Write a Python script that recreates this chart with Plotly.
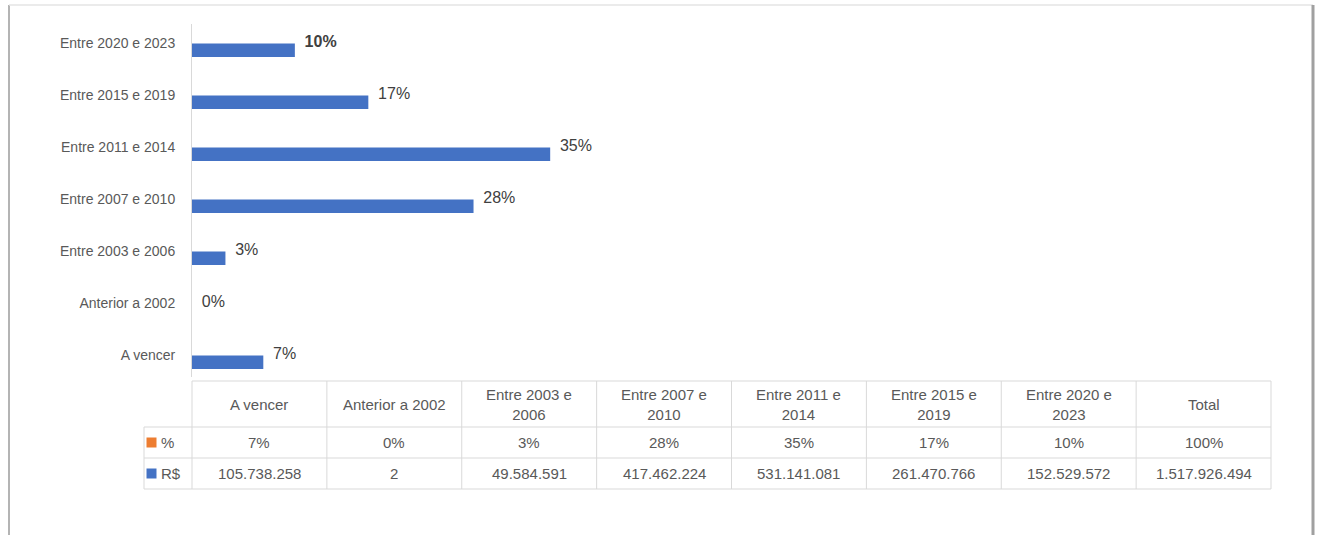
import plotly.graph_objects as go

# ---------------- data ----------------
categories = ["A vencer", "Anterior a 2002", "Entre 2003 e 2006", "Entre 2007 e 2010",
              "Entre 2011 e 2014", "Entre 2015 e 2019", "Entre 2020 e 2023"]
pct = [7, 0, 3, 28, 35, 17, 10]
valores = [105738258, 2, 49584591, 417462224, 531141081, 261470766, 152529572]
total_label = "Total"
total_pct = 100
series_labels = ["%", "R$"]
series_colors = ["#ED7D31", "#4472C4"]

# ---------------- helpers ----------------
W, H = 1320, 535
FONT = "Liberation Sans, Arial, sans-serif"
GRID = "#d9d9d9"
TXT = "#595959"


def fmt_br(v):
    return f"{v:,}".replace(",", ".")


def header_label(c):
    return c.replace(" e ", " e<br>") if c.startswith("Entre") else c


fig = go.Figure()

# bars (R$ series)
fig.add_trace(go.Bar(
    x=valores, y=categories, orientation="h",
    marker=dict(color=series_colors[1], line=dict(width=0)),
    width=0.26, offset=-0.27, hoverinfo="skip", showlegend=False,
))

# percentage labels
label_text = [("<b>%d%%</b>" % p) if c == "Entre 2020 e 2023" else ("%d%%" % p)
              for c, p in zip(categories, pct)]
fig.add_trace(go.Scatter(
    x=valores, y=categories, mode="markers+text", text=label_text,
    textposition="middle right", cliponaxis=False,
    marker=dict(size=14, opacity=0),
    textfont=dict(family=FONT, size=16, color="#404040"),
    hoverinfo="skip", showlegend=False,
))

# ---------------- data table (x2 / y2 in pixel-like units) ----------------
rowhead_w = 48.0
table_w = 1127.0
ncols = len(categories) + 1
col_w = (table_w - rowhead_w) / ncols
header_h, row_h = 46.0, 31.0
row_tops = [header_h, header_h + row_h]
table_h = header_h + 2 * row_h

# legend keys in row header
fig.add_trace(go.Scatter(
    x=[7.5, 7.5], y=[r + row_h / 2 for r in row_tops], mode="markers",
    marker=dict(symbol="square", size=10, color=series_colors),
    xaxis="x2", yaxis="y2", hoverinfo="skip", showlegend=False, cliponaxis=False,
))

shapes = []
line = dict(color=GRID, width=1)
# horizontal lines
shapes.append(dict(type="line", xref="x2", yref="y2", x0=rowhead_w, x1=table_w, y0=0, y1=0, line=line))
for yv in [header_h, header_h + row_h, table_h]:
    shapes.append(dict(type="line", xref="x2", yref="y2", x0=0, x1=table_w, y0=yv, y1=yv, line=line))
# vertical lines
shapes.append(dict(type="line", xref="x2", yref="y2", x0=0, x1=0, y0=header_h, y1=table_h, line=line))
for k in range(ncols + 1):
    xv = rowhead_w + k * col_w
    shapes.append(dict(type="line", xref="x2", yref="y2", x0=xv, x1=xv, y0=0, y1=table_h, line=line))

# outer frame (chart border with shadow)
shapes.append(dict(type="line", xref="paper", yref="paper", x0=9 / W, x1=9 / W, y0=0, y1=1 - 5 / H,
                   line=dict(color="#b4b4b4", width=2)))
shapes.append(dict(type="line", xref="paper", yref="paper", x0=9 / W, x1=1313 / W, y0=1 - 5 / H, y1=1 - 5 / H,
                   line=dict(color="#e4e4e4", width=1.5)))
shapes.append(dict(type="line", xref="paper", yref="paper", x0=1313 / W, x1=1313 / W, y0=0, y1=1 - 5 / H,
                   line=dict(color="#a0a0a0", width=3)))

annotations = []
headers = [header_label(c) for c in categories] + [total_label]
pct_row = ["%d%%" % p for p in pct] + ["%d%%" % total_pct]
val_row = [fmt_br(v) for v in valores] + [fmt_br(sum(valores))]
for i in range(ncols):
    xc = rowhead_w + (i + 0.5) * col_w
    for txt, yc in [(headers[i], header_h / 2), (pct_row[i], row_tops[0] + row_h / 2),
                    (val_row[i], row_tops[1] + row_h / 2)]:
        annotations.append(dict(x=xc, y=yc, xref="x2", yref="y2", text=txt, showarrow=False,
                                xanchor="center", yanchor="middle",
                                font=dict(family=FONT, size=15, color=TXT)))
for lab, top in zip(series_labels, row_tops):
    annotations.append(dict(x=15, y=top + row_h / 2, xref="x2", yref="y2", text=lab, showarrow=False,
                            xanchor="left", yanchor="middle",
                            font=dict(family=FONT, size=15, color=TXT)))

# ---------------- layout ----------------
cat_px = 52.0
plot_top, plot_bottom = 24.0, 381.0
y_top = -0.5 + (plot_bottom - plot_top) / cat_px
pad = 4

fig.update_layout(
    width=W, height=H, autosize=False,
    margin=dict(l=0, r=0, t=0, b=0),
    paper_bgcolor="white", plot_bgcolor="white",
    font=dict(family=FONT, color=TXT),
    showlegend=False,
    xaxis=dict(domain=[192 / W, 1271 / W], range=[0, 1.6e9], visible=False, fixedrange=True),
    yaxis=dict(domain=[1 - plot_bottom / H, 1 - plot_top / H], type="category",
               categoryorder="array", categoryarray=categories, range=[-0.5, y_top],
               showline=True, linecolor=GRID, linewidth=1, ticks="", ticklabelstandoff=13,
               tickfont=dict(family=FONT, size=14, color=TXT), showgrid=False, zeroline=False,
               fixedrange=True),
    xaxis2=dict(domain=[(144 - pad) / W, (1271 + pad) / W], range=[-pad, table_w + pad],
                visible=False, anchor="y2", fixedrange=True),
    yaxis2=dict(domain=[1 - (489 + pad) / H, 1 - (381 - pad) / H], range=[table_h + pad, -pad],
                visible=False, anchor="x2", fixedrange=True),
    shapes=shapes,
    annotations=annotations,
)

fig.write_html(
    "out.html",
    config={"displayModeBar": False},
    post_script="document.body.style.margin='0';document.body.style.overflow='hidden';",
)
